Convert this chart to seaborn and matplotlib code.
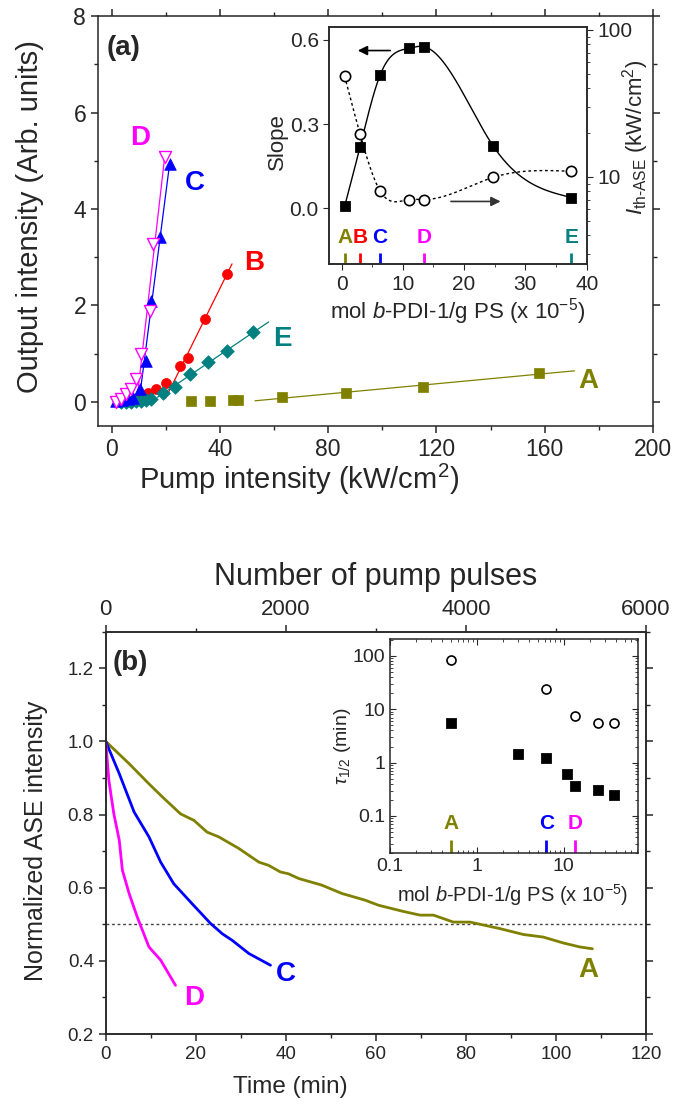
import numpy as np
import matplotlib
matplotlib.use("Agg")
import matplotlib.pyplot as plt
from matplotlib.ticker import MultipleLocator, LogLocator, NullFormatter, FixedLocator
import seaborn as sns

# ---- panel (a): ASE output vs pump intensity
pump_A = [29.5, 36.3, 44.9, 46.8, 62.8, 86.5, 115.0, 157.9]
out_A = [0.02, 0.02, 0.03, 0.03, 0.10, 0.19, 0.31, 0.60]
pump_B = [8.0, 11.0, 13.5, 16.5, 20.2, 25.2, 28.3, 34.4, 42.5]
out_B = [0.04, 0.10, 0.19, 0.26, 0.40, 0.75, 0.92, 1.72, 2.65]
pump_C = [1.7, 4.0, 6.0, 8.0, 10.4, 12.8, 14.7, 17.8, 21.5]
out_C = [0.02, 0.03, 0.05, 0.08, 0.27, 0.85, 2.10, 3.42, 4.94]
pump_D = [1.7, 3.6, 5.4, 7.3, 9.1, 11.0, 14.1, 15.3, 19.6]
out_D = [0.00, 0.06, 0.16, 0.26, 0.47, 0.99, 1.89, 3.28, 5.08]
pump_E = [3.6, 5.5, 7.3, 9.1, 11.0, 12.8, 14.7, 19.0, 23.3, 28.9, 35.7, 42.5, 52.3]
out_E = [0.0, 0.0, 0.0, 0.01, 0.02, 0.03, 0.05, 0.19, 0.30, 0.57, 0.82, 1.06, 1.44]
# threshold above which the linear fit is done, and span of the drawn fit line
fit_from = {"A": 60, "B": 25, "C": 10, "D": 11, "E": 19}
fit_span = {"A": (53, 171), "B": (20, 44.5), "C": (10, 21.5), "D": (9.2, 19.6), "E": (17, 58)}

# ---- inset (a) and inset (b): vs concentration
conc = [0.5, 3.0, 6.3, 11.0, 13.4, 24.7, 37.5]
slope = [0.006, 0.217, 0.475, 0.570, 0.576, 0.223, 0.038]
i_th = [48.4, 19.7, 8.0, 7.0, 7.0, 9.9, 10.9]
tau_sq = [5.6, 1.43, 1.2, 0.62, 0.364, 0.31, 0.25]
conc_circ = [0.5, 6.3, 13.4, 24.7, 37.5]
tau_circ = [84, 24, 7.4, 5.6, 5.5]

# ---- panel (b): normalised ASE vs time
t_A = [0, 5.2, 9.6, 12.6, 16.6, 19.6, 22.5, 25.1, 29.6, 34.0, 36.2, 38.8, 40.6, 42.9,
       48.0, 52.5, 57.6, 60.6, 65.8, 69.8, 72.8, 77.2, 80.9, 87.6, 92.8, 97.2, 101.6,
       105.3, 108.1]
ase_A = [1.0, 0.939, 0.884, 0.848, 0.802, 0.784, 0.752, 0.739, 0.707, 0.670, 0.661,
         0.643, 0.638, 0.625, 0.607, 0.584, 0.566, 0.552, 0.536, 0.525, 0.525, 0.506,
         0.506, 0.488, 0.472, 0.465, 0.449, 0.438, 0.433]
t_C = [0, 3.0, 6.3, 9.6, 12.2, 15.1, 19.2, 23.3, 25.9, 28.1, 31.8, 36.6]
ase_C = [1.0, 0.912, 0.807, 0.739, 0.670, 0.611, 0.556, 0.502, 0.474, 0.456, 0.420, 0.388]
t_D = [0, 0.7, 1.8, 3.0, 3.7, 5.2, 7.0, 9.6, 12.2, 15.5]
ase_D = [1.0, 0.893, 0.802, 0.730, 0.648, 0.584, 0.520, 0.438, 0.402, 0.333]

colors = {"A": "#808000", "B": "#ff0000", "C": "#0000ff", "D": "#ff00ff", "E": "#008080"}
sample_conc = {"A": 0.5, "B": 3.0, "C": 6.3, "D": 13.4, "E": 37.5}


def natural_spline(x, y, xs):
    x = np.asarray(x, float)
    y = np.asarray(y, float)
    n = len(x)
    h = np.diff(x)
    A = np.zeros((n, n))
    b = np.zeros(n)
    A[0, 0] = A[-1, -1] = 1
    for i in range(1, n - 1):
        A[i, i - 1] = h[i - 1]
        A[i, i] = 2 * (h[i - 1] + h[i])
        A[i, i + 1] = h[i]
        b[i] = 3 * ((y[i + 1] - y[i]) / h[i] - (y[i] - y[i - 1]) / h[i - 1])
    c = np.linalg.solve(A, b)
    bc = (y[1:] - y[:-1]) / h - h * (2 * c[:-1] + c[1:]) / 3
    d = (c[1:] - c[:-1]) / (3 * h)
    idx = np.clip(np.searchsorted(x, xs) - 1, 0, n - 2)
    dx = xs - x[idx]
    return y[idx] + bc[idx] * dx + c[idx] * dx ** 2 + d[idx] * dx ** 3


sns.set_style("ticks")
plt.rcParams["font.family"] = ["Liberation Sans", "DejaVu Sans"]
plt.rcParams["mathtext.fontset"] = "custom"
plt.rcParams["mathtext.rm"] = "Liberation Sans"
plt.rcParams["mathtext.it"] = "Liberation Sans:italic"
plt.rcParams["mathtext.bf"] = "Liberation Sans:bold"
plt.rcParams["axes.linewidth"] = 1.1

fig = plt.figure(figsize=(6.76, 11.17), dpi=100)

# ================= panel (a) =================
ax = fig.add_axes([0.145, 0.6186, 0.821, 0.367])
series = {
    "A": (pump_A, out_A, "s", 46, True),
    "B": (pump_B, out_B, "o", 52, True),
    "E": (pump_E, out_E, "D", 48, True),
    "C": (pump_C, out_C, "^", 70, True),
    "D": (pump_D, out_D, "v", 75, False),
}
for key, (px, py, mk, sz, filled) in series.items():
    px = np.array(px)
    py = np.array(py)
    sel = px >= fit_from[key]
    k, b0 = np.polyfit(px[sel], py[sel], 1)
    xs = np.linspace(*fit_span[key], 20)
    sns.lineplot(x=xs, y=k * xs + b0, color=colors[key], lw=0.9, ax=ax, zorder=2)
    if filled:
        sns.scatterplot(x=px, y=py, marker=mk, s=sz, color=colors[key],
                        edgecolor=colors[key], linewidth=0.5, ax=ax, zorder=3)
    else:
        sns.scatterplot(x=px, y=py, marker=mk, s=sz, color="white",
                        edgecolor=colors[key], linewidth=1.0, ax=ax, zorder=3)

ax.set_xlim(-5, 200)
ax.set_ylim(-0.5, 8)
ax.xaxis.set_major_locator(MultipleLocator(40))
ax.xaxis.set_minor_locator(MultipleLocator(20))
ax.yaxis.set_major_locator(MultipleLocator(2))
ax.yaxis.set_minor_locator(MultipleLocator(1))
ax.tick_params(which="both", direction="out", top=True, right=True, labelsize=16.5)
ax.tick_params(which="major", length=5, width=1.1)
ax.tick_params(which="minor", length=3, width=1.0)
ax.set_xlabel("Pump intensity (kW/cm$^2$)", fontsize=21)
ax.set_ylabel("Output intensity (Arb. units)", fontsize=21)
ax.xaxis.set_label_coords(0.362, -0.088)
ax.yaxis.set_label_coords(-0.098, 0.51)
ax.text(0.016, 0.922, "(a)", transform=ax.transAxes, fontsize=20, fontweight="bold",
        ha="left", va="center")
label_pos_a = {"D": (10.4, 5.47), "C": (30.7, 4.53), "B": (52.6, 2.87),
               "E": (63.0, 1.31), "A": (176.0, 0.44)}
for key, (lx, ly) in label_pos_a.items():
    ax.text(lx, ly, key, color=colors[key], fontsize=20, fontweight="bold",
            ha="center", va="center")

# ---- inset (a)
axi = fig.add_axes([0.4871, 0.7634, 0.3808, 0.2127])
xs = np.linspace(conc[0], conc[-1], 300)
sns.lineplot(x=xs, y=natural_spline(conc, slope, xs), color="black", lw=1.0, ax=axi)
sns.scatterplot(x=conc, y=slope, marker="s", s=50, color="black", edgecolor="black",
                ax=axi, zorder=3)
axi.set_xlim(-2, 40)
axi.set_ylim(-0.2, 0.647)
axi.xaxis.set_major_locator(MultipleLocator(10))
axi.xaxis.set_minor_locator(MultipleLocator(5))
axi.yaxis.set_major_locator(FixedLocator([0.0, 0.3, 0.6]))
axi.yaxis.set_major_formatter(matplotlib.ticker.FormatStrFormatter("%.1f"))
axi.tick_params(which="both", direction="out", labelsize=15)
axi.tick_params(which="major", length=4)
axi.tick_params(which="minor", length=2)
axi.set_xlabel("mol $\\it{b}$-PDI-1/g PS (x 10$^{-5}$)", fontsize=16)
axi.set_ylabel("Slope", fontsize=16)
axi.xaxis.set_label_coords(0.5, -0.135)
axi.yaxis.set_label_coords(-0.16, 0.516)
axi.annotate("", xy=(2.2, 0.562), xytext=(8.4, 0.562),
             arrowprops=dict(arrowstyle="-|>", color="black", lw=1.2, mutation_scale=14))
axi.annotate("", xy=(26.4, 0.024), xytext=(17.4, 0.024),
             arrowprops=dict(arrowstyle="-|>", color="#333333", lw=1.2, mutation_scale=14))
for key, cx in sample_conc.items():
    axi.text(cx, -0.106, key, color=colors[key], fontsize=15, fontweight="bold",
             ha="center", va="center")
    axi.vlines(cx, -0.195, -0.16, color=colors[key], lw=2)

axr = axi.twinx()
lx = np.log10(i_th)
sns.lineplot(x=xs, y=10 ** natural_spline(conc, lx, xs), color="black", lw=1.0,
             linestyle=(0, (2, 2)), ax=axr)
sns.scatterplot(x=conc, y=i_th, marker="o", s=55, color="white", edgecolor="black",
                linewidth=1.2, ax=axr, zorder=3)
axr.set_yscale("log")
axr.set_ylim(2.54, 105)
axr.yaxis.set_major_locator(FixedLocator([10, 100]))
axr.yaxis.set_major_formatter(matplotlib.ticker.FormatStrFormatter("%d"))
axr.yaxis.set_minor_locator(LogLocator(base=10, subs=np.arange(2, 10)))
axr.yaxis.set_minor_formatter(NullFormatter())
axr.tick_params(which="both", direction="out", labelsize=15)
axr.tick_params(which="major", length=4)
axr.tick_params(which="minor", length=2)
axr.set_ylabel("$I_{\\mathrm{th‐ASE}}$ (kW/cm$^2$)", fontsize=16)
axr.yaxis.set_label_coords(1.13, 0.535)

# ================= panel (b) =================
axb = fig.add_axes([0.1564, 0.0743, 0.7992, 0.3602])
axb.axhline(0.5, color="#444444", lw=1.0, linestyle=(0, (2, 2)))
for key, tt, aa in [("A", t_A, ase_A), ("C", t_C, ase_C), ("D", t_D, ase_D)]:
    sns.lineplot(x=tt, y=aa, color=colors[key], lw=2.0, sort=False, estimator=None, ax=axb)
axb.set_xlim(0, 120)
axb.set_ylim(0.2, 1.3)
axb.xaxis.set_major_locator(MultipleLocator(20))
axb.xaxis.set_minor_locator(MultipleLocator(10))
axb.yaxis.set_major_locator(MultipleLocator(0.2))
axb.yaxis.set_minor_locator(MultipleLocator(0.1))
axb.yaxis.set_major_formatter(matplotlib.ticker.FormatStrFormatter("%.1f"))
axb.tick_params(which="both", direction="out", right=True, labelsize=13.5)
axb.tick_params(which="major", length=5, width=1.1)
axb.tick_params(which="minor", length=3, width=1.0)
axb.set_xlabel("Time (min)", fontsize=17.5)
axb.set_ylabel("Normalized ASE intensity", fontsize=18)
axb.xaxis.set_label_coords(0.341, -0.105)
axb.yaxis.set_label_coords(-0.107, 0.48)
axb.text(0.0135, 0.922, "(b)", transform=axb.transAxes, fontsize=20, fontweight="bold",
         ha="left", va="center")
label_pos_b = {"D": (19.7, 0.298), "C": (40.1, 0.365), "A": (107.2, 0.374)}
for key, (lx_, ly_) in label_pos_b.items():
    axb.text(lx_, ly_, key, color=colors[key], fontsize=20, fontweight="bold",
             ha="center", va="center")

axt = axb.twiny()
axt.set_xlim(0, 6000)
axt.xaxis.set_major_locator(MultipleLocator(2000))
axt.xaxis.set_minor_locator(MultipleLocator(1000))
axt.tick_params(which="both", direction="out", labelsize=16)
axt.tick_params(which="major", length=5, width=1.1)
axt.tick_params(which="minor", length=3, width=1.0)
axt.set_xlabel("Number of pump pulses", fontsize=22)
axt.xaxis.set_label_coords(0.5, 1.115)

# ---- inset (b)
axj = fig.add_axes([0.5769, 0.2361, 0.3673, 0.1916])
sns.scatterplot(x=conc, y=tau_sq, marker="s", s=50, color="black", edgecolor="black",
                ax=axj, zorder=3)
sns.scatterplot(x=conc_circ, y=tau_circ, marker="o", s=42, color="white",
                edgecolor="black", linewidth=1.2, ax=axj, zorder=3)
axj.set_xscale("log")
axj.set_yscale("log")
axj.set_xlim(0.1, 72)
axj.set_ylim(0.02, 205)
axj.xaxis.set_major_locator(FixedLocator([0.1, 1, 10]))
axj.xaxis.set_major_formatter(matplotlib.ticker.FuncFormatter(lambda v, p: f"{v:g}"))
axj.yaxis.set_major_locator(FixedLocator([0.1, 1, 10, 100]))
axj.yaxis.set_major_formatter(matplotlib.ticker.FuncFormatter(lambda v, p: f"{v:g}"))
for a in (axj.xaxis, axj.yaxis):
    a.set_minor_locator(LogLocator(base=10, subs=np.arange(2, 10)))
    a.set_minor_formatter(NullFormatter())
axj.tick_params(which="both", direction="in", top=True, right=True, labelsize=14)
axj.tick_params(which="major", length=4)
axj.tick_params(which="minor", length=2)
axj.set_xlabel("mol $\\it{b}$-PDI-1/g PS (x 10$^{-5}$)", fontsize=14.5)
axj.set_ylabel("$\\tau_{1/2}$ (min)", fontsize=14)
axj.xaxis.set_label_coords(0.495, -0.135)
axj.yaxis.set_label_coords(-0.15, 0.5)
for key in ["A", "C", "D"]:
    cx = sample_conc[key]
    axj.text(cx, 0.0726, key, color=colors[key], fontsize=15, fontweight="bold",
             ha="center", va="center")
    axj.vlines(cx, 0.0205, 0.035, color=colors[key], lw=2)

fig.savefig("out.png", dpi=100)
